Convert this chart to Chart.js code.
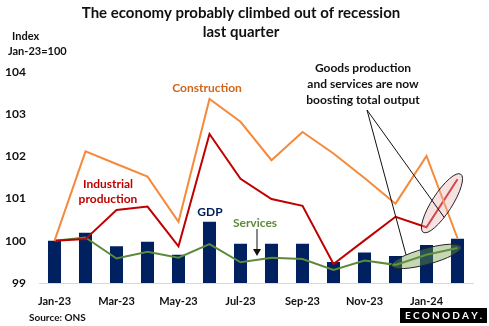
<!DOCTYPE html>
<html>
<head>
<meta charset="utf-8">
<script src="https://cdn.jsdelivr.net/npm/chart.js@4"></script>
<style>
  html, body { margin: 0; padding: 0; background: #fff; }
  #wrap { width: 489px; height: 326px; position: relative; }
</style>
</head>
<body>
<div id="wrap"><canvas id="chart"></canvas></div>
<script>
const months = ['Jan-23', 'Feb-23', 'Mar-23', 'Apr-23', 'May-23', 'Jun-23', 'Jul-23',
    'Aug-23', 'Sep-23', 'Oct-23', 'Nov-23', 'Dec-23', 'Jan-24', 'Feb-24'];
const gdp = [100.0, 100.19, 99.87, 99.98, 99.67, 100.45, 99.93, 99.93, 99.93, 99.50, 99.72, 99.64, 99.90, 100.05];
const construction = [100.0, 102.12, 101.82, 101.52, 100.45, 103.36, 102.82, 101.91, 102.58, 102.07, 101.49, 100.88, 102.01, 100.06];
const industrial = [100.0, 100.04, 100.73, 100.81, 99.87, 102.53, 101.47, 100.99, 100.83, 99.45, 100.01, 100.57, 100.32, 101.46];
const services = [100.0, 100.08, 99.58, 99.74, 99.60, 99.92, 99.49, 99.60, 99.57, 99.31, 99.53, 99.43, 99.67, 99.83];
const yTicks = [99, 100, 101, 102, 103, 104];

const FONT = 'Lato, "Open Sans", sans-serif';
const NAVY = '#002060';
const ORANGE = '#f58a3c';
const RED = '#c00000';
const GREEN = '#5b8a3a';

function text(ctx, str, x, y, size, color, align) {
    ctx.font = 'bold ' + size + 'px ' + FONT;
    ctx.fillStyle = color;
    ctx.textAlign = align || 'center';
    ctx.textBaseline = 'middle';
    ctx.fillText(str, x, y);
}

// ellipse drawn around the segment between two points of a dataset
function ringSegment(chart, dsIndex, i0, i1, padLong, halfWidth, fill) {
    const meta = chart.getDatasetMeta(dsIndex);
    const a = meta.data[i0], b = meta.data[i1];
    const cx = (a.x + b.x) / 2, cy = (a.y + b.y) / 2;
    const len = Math.hypot(b.x - a.x, b.y - a.y) / 2 + padLong;
    const ang = Math.atan2(b.y - a.y, b.x - a.x);
    const ctx = chart.ctx;
    ctx.save();
    ctx.beginPath();
    ctx.ellipse(cx, cy, len, halfWidth, ang, 0, Math.PI * 2);
    ctx.fillStyle = fill;
    ctx.fill();
    ctx.lineWidth = 1;
    ctx.strokeStyle = '#222';
    ctx.stroke();
    ctx.restore();
    return { cx, cy, len, halfWidth, ang };
}

function edgePoint(e, t) {
    // point on ellipse at parametric angle t
    const px = e.len * Math.cos(t), py = e.halfWidth * Math.sin(t);
    return {
        x: e.cx + px * Math.cos(e.ang) - py * Math.sin(e.ang),
        y: e.cy + px * Math.sin(e.ang) + py * Math.cos(e.ang)
    };
}

const labelsPlugin = {
    id: 'labels',
    afterDatasetsDraw(chart) {
        const ctx = chart.ctx;
        ctx.save();
        // title
        text(ctx, 'The economy probably climbed out of recession', 241, 13, 15, '#111');
        text(ctx, 'last quarter', 241, 32, 15, '#111');
        text(ctx, 'Index', 12, 36, 11, '#111', 'left');
        text(ctx, 'Jan-23=100', 8, 51, 11, '#111', 'left');

        // series labels
        text(ctx, 'Construction', 207, 88, 12, '#d0651c');
        text(ctx, 'Industrial', 108, 184, 12, RED);
        text(ctx, 'production', 108, 199, 12, RED);
        text(ctx, 'GDP', 210, 212, 12, NAVY);
        text(ctx, 'Services', 255, 223, 12, GREEN);

        // arrow to the services line
        ctx.strokeStyle = '#111';
        ctx.fillStyle = '#111';
        ctx.lineWidth = 1;
        ctx.beginPath();
        ctx.moveTo(257, 229);
        ctx.lineTo(257, 252);
        ctx.stroke();
        ctx.beginPath();
        ctx.moveTo(253, 249);
        ctx.lineTo(261, 249);
        ctx.lineTo(257, 256);
        ctx.closePath();
        ctx.fill();

        // highlighted recent moves
        const redRing = ringSegment(chart, 1, 12, 13, 6, 10, 'rgba(235,180,180,0.4)');
        const greenRing = ringSegment(chart, 2, 11, 13, 4, 8, 'rgba(110,155,70,0.4)');

        text(ctx, 'Goods production', 363, 68, 12, '#111');
        text(ctx, 'and services are now', 363, 84, 12, '#111');
        text(ctx, 'boosting total output', 363, 100, 12, '#111');

        const from = { x: 367, y: 110 };
        const p1 = edgePoint(redRing, Math.PI * 0.6);
        const p2 = edgePoint(greenRing, Math.PI * 1.32);
        ctx.strokeStyle = '#111';
        ctx.lineWidth = 1;
        ctx.beginPath();
        ctx.moveTo(from.x, from.y);
        ctx.lineTo(p1.x, p1.y);
        ctx.moveTo(from.x, from.y);
        ctx.lineTo(p2.x, p2.y);
        ctx.stroke();

        // footer
        text(ctx, 'Source: ONS', 29, 318, 10, '#111', 'left');
        ctx.fillStyle = '#000';
        ctx.fillRect(400, 308, 87, 15);
        ctx.font = 'bold 10px ' + FONT;
        ctx.fillStyle = '#fff';
        ctx.textAlign = 'left';
        ctx.textBaseline = 'middle';
        let x = 405;
        for (const ch of 'ECONODAY.') {
            ctx.fillText(ch, x, 316);
            x += ctx.measureText(ch).width + 2.2;
        }
        ctx.restore();
    }
};

new Chart(document.getElementById('chart'), {
    data: {
        labels: months,
        datasets: [
            { type: 'line', label: 'Construction', data: construction, borderColor: ORANGE, borderWidth: 2, pointRadius: 0, tension: 0, order: 1 },
            { type: 'line', label: 'Industrial production', data: industrial, borderColor: RED, borderWidth: 2, pointRadius: 0, tension: 0, order: 2 },
            { type: 'line', label: 'Services', data: services, borderColor: GREEN, borderWidth: 2, pointRadius: 0, tension: 0, order: 3 },
            { type: 'bar', label: 'GDP', data: gdp, backgroundColor: NAVY, barPercentage: 0.42, categoryPercentage: 1, order: 4 }
        ]
    },
    options: {
        responsive: true,
        maintainAspectRatio: false,
        animation: false,
        layout: { padding: { top: 72, right: 16, left: 0, bottom: 0 } },
        plugins: { legend: { display: false }, tooltip: { enabled: false } },
        scales: {
            x: {
                grid: { display: false },
                border: { display: true, color: '#d9d9d9', width: 1 },
                ticks: {
                    autoSkip: false,
                    maxRotation: 0,
                    padding: 4,
                    color: '#111',
                    font: { family: FONT, size: 11, weight: 'bold' },
                    callback: (v, i) => (i % 2 === 0 ? months[i] : '')
                },
                afterFit: s => { s.height = 43; }
            },
            y: {
                min: 99,
                max: 104,
                grid: { display: false },
                border: { display: false },
                afterBuildTicks: s => { s.ticks = yTicks.map(v => ({ value: v })); },
                ticks: {
                    padding: 5,
                    color: '#111',
                    font: { family: FONT, size: 12, weight: 'bold' }
                },
                afterFit: s => { s.width = 39; }
            }
        }
    },
    plugins: [labelsPlugin]
});
</script>
</body>
</html>
